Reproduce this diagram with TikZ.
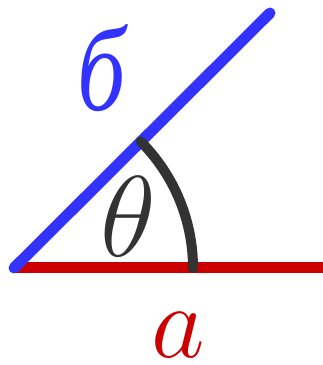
\RequirePackage{fix-cm}
\documentclass[tikz,border=0pt]{standalone}
\usepackage{fontspec}
\newfontfamily\cyrfont{Liberation Serif}
\definecolor{myblue}{HTML}{3333FF}
\definecolor{myred}{HTML}{CC0000}
\definecolor{mygray}{HTML}{333333}
\begin{document}
\begin{tikzpicture}[x=1pt,y=1pt,
  side/.style={line width=11pt},
  anglearc/.style={line width=10pt,color=mygray,line cap=round},
  lbl/.style={inner sep=0pt,anchor=center}]
\useasboundingbox (0,0) rectangle (323,365);
\coordinate (O) at (14,97);
\coordinate (R) at (323,97);
\coordinate (B) at (270,352);
\coordinate (A0) at (193,97);
\draw[side,myred] (O) -- (R);
\draw[side,myblue,line cap=round] (O) -- (B);
\draw[anglearc] (A0) arc[start angle=0,end angle=45,radius=179];
\node[lbl,myblue,xscale=0.8,transform shape] (lb) at (102,297) {\fontsize{120}{130}\selectfont\cyrfont\itshape б};
\node[lbl,mygray] (lt) at (128,148) {\fontsize{115}{120}\selectfont$\theta$};
\node[lbl,myred,anchor=base] (la) at (178,8) {\fontsize{104}{104}\selectfont$a$};
\end{tikzpicture}
\end{document}
